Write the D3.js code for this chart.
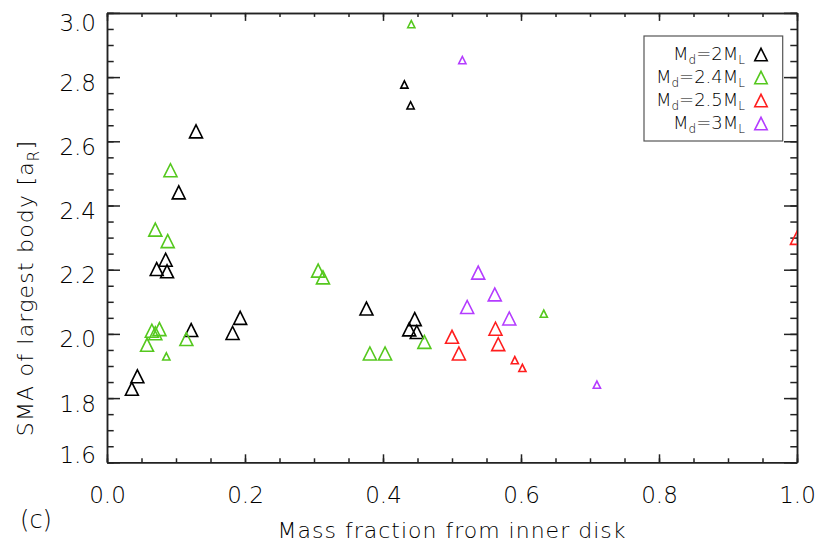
<!DOCTYPE html>
<html>
<head>
<meta charset="utf-8">
<script src="https://cdn.jsdelivr.net/npm/d3@7"></script>
<style>
  html, body { margin: 0; padding: 0; background: #fff; }
  svg { display: block; }
  text { font-family: "DejaVu Sans", "Liberation Sans", sans-serif; font-weight: 200; fill: #000; }
</style>
</head>
<body>
<svg id="chart" width="830" height="554"></svg>
<script>
// ---- data (x = mass fraction from inner disk, y = SMA of largest body [aR]) ----
const md2Big = [[0.036,1.829],[0.044,1.868],[0.072,2.202],[0.085,2.231],[0.087,2.195],[0.104,2.441],[0.122,2.012],[0.129,2.631],[0.182,2.003],[0.193,2.050],[0.376,2.079],[0.438,2.014],[0.446,2.046],[0.449,2.006]];
const md2Small = [[0.431,2.777],[0.440,2.712]];
const md24Big = [[0.058,1.966],[0.065,2.010],[0.070,2.002],[0.076,2.015],[0.070,2.325],[0.088,2.289],[0.092,2.510],[0.115,1.984],[0.306,2.197],[0.313,2.176],[0.381,1.939],[0.403,1.939],[0.460,1.975]];
const md24Small = [[0.086,1.930],[0.441,2.965],[0.633,2.063]];
const md25Big = [[0.500,1.991],[0.510,1.939],[0.563,2.016],[0.567,1.968],[1.000,2.299]];
const md25Small = [[0.591,1.918],[0.602,1.894]];
const md3Big = [[0.522,2.084],[0.538,2.191],[0.562,2.123],[0.583,2.048]];
const md3Small = [[0.515,2.853],[0.710,1.842]];

const xMajorTicks = [0, 0.2, 0.4, 0.6, 0.8, 1.0];
const yMajorTicks = [1.6, 1.8, 2.0, 2.2, 2.4, 2.6, 2.8, 3.0];
const diskMasses = ["2", "2.4", "2.5", "3"];

const seriesList = [
  { big: md2Big, small: md2Small, color: "#000000", md: diskMasses[0] },
  { big: md24Big, small: md24Small, color: "#55c81e", md: diskMasses[1] },
  { big: md25Big, small: md25Small, color: "#ff1e1e", md: diskMasses[2] },
  { big: md3Big, small: md3Small, color: "#b43cff", md: diskMasses[3] }
];

// ---- layout ----
const L = 107, R = 797, T = 12.9, B = 462.3;
const svg = d3.select("#chart");
const x = d3.scaleLinear().domain([0, 1]).range([L, R]);
const y = d3.scaleLinear().domain([1.6, 3.0]).range([B, T]);

const xMinor = d3.range(0, 1.0001, 0.05);
const yMinor = d3.range(1.6, 3.0001, 0.05);
const axisColor = "#222";

function styleAxis(g) {
  g.select(".domain").attr("stroke", axisColor).attr("stroke-width", 1.5);
  g.selectAll(".tick line").attr("stroke", axisColor).attr("stroke-width", 1.5);
}

// bottom
svg.append("g").attr("transform", `translate(0,${B})`)
  .call(d3.axisBottom(x).tickValues(xMinor).tickSize(-4).tickSizeOuter(0).tickFormat(""))
  .call(styleAxis);
svg.append("g").attr("transform", `translate(0,${B})`)
  .call(d3.axisBottom(x).tickValues(xMajorTicks).tickSize(-8).tickSizeOuter(0).tickFormat(d3.format(".1f")))
  .call(styleAxis)
  .call(g => g.selectAll(".tick text").attr("y", 41).attr("dy", null)
    .style("font-size", "23px").attr("fill", "#000"));
// top
svg.append("g").attr("transform", `translate(0,${T})`)
  .call(d3.axisTop(x).tickValues(xMinor).tickSize(-4).tickSizeOuter(0).tickFormat(""))
  .call(styleAxis);
svg.append("g").attr("transform", `translate(0,${T})`)
  .call(d3.axisTop(x).tickValues(xMajorTicks).tickSize(-8).tickSizeOuter(0).tickFormat(""))
  .call(styleAxis);
// left
svg.append("g").attr("transform", `translate(${L},0)`)
  .call(d3.axisLeft(y).tickValues(yMinor).tickSize(-6.7).tickSizeOuter(0).tickFormat(""))
  .call(styleAxis);
svg.append("g").attr("transform", `translate(${L},0)`)
  .call(d3.axisLeft(y).tickValues(yMajorTicks).tickSize(-13).tickSizeOuter(0).tickFormat(d3.format(".1f")))
  .call(styleAxis)
  .call(g => g.selectAll(".tick text")
    .attr("x", -11).attr("dy", null)
    .attr("y", d => { const ty = y(d); return Math.min(Math.max(ty + 13, 30), 462.5) - ty; })
    .style("font-size", "23px").attr("fill", "#000"));
// right
svg.append("g").attr("transform", `translate(${R},0)`)
  .call(d3.axisRight(y).tickValues(yMinor).tickSize(-6.7).tickSizeOuter(0).tickFormat(""))
  .call(styleAxis);
svg.append("g").attr("transform", `translate(${R},0)`)
  .call(d3.axisRight(y).tickValues(yMajorTicks).tickSize(-13).tickSizeOuter(0).tickFormat(""))
  .call(styleAxis);

// ---- axis titles ----
svg.append("text").attr("x", 452).attr("y", 538).attr("text-anchor", "middle")
  .style("font-size", "22px").style("letter-spacing", "1px")
  .text("Mass fraction from inner disk");
const yt = svg.append("text").attr("transform", "translate(33,288) rotate(-90)")
  .attr("text-anchor", "middle").style("font-size", "22px").style("letter-spacing", "1.2px");
yt.append("tspan").text("SMA of largest body [a");
yt.append("tspan").attr("dy", 6).style("font-size", "15px").text("R");
yt.append("tspan").attr("dy", -6).text("]");
svg.append("text").attr("x", 36).attr("y", 528).attr("text-anchor", "middle")
  .style("font-size", "24px").text("(c)");

// ---- markers ----
svg.append("defs").append("clipPath").attr("id", "plotclip")
  .append("rect").attr("x", L).attr("y", T).attr("width", R - L).attr("height", B - T);
function tri(s) { return `M${-s},${s}L0,${-s}L${s},${s}Z`; }
const plot = svg.append("g").attr("clip-path", "url(#plotclip)");
seriesList.forEach(sr => {
  plot.selectAll(null).data(sr.big).enter().append("path")
    .attr("d", tri(6.5)).attr("transform", d => `translate(${x(d[0])},${y(d[1])})`)
    .attr("fill", "none").attr("stroke", sr.color).attr("stroke-width", 1.6);
  plot.selectAll(null).data(sr.small).enter().append("path")
    .attr("d", tri(3.6)).attr("transform", d => `translate(${x(d[0])},${y(d[1])})`)
    .attr("fill", "none").attr("stroke", sr.color).attr("stroke-width", 1.6);
});

// ---- legend ----
const lg = svg.append("g");
lg.append("rect").attr("x", 644).attr("y", 36).attr("width", 138.7).attr("height", 105)
  .attr("fill", "#fff").attr("stroke", "#555").attr("stroke-width", 1.2);
seriesList.forEach((sr, i) => {
  const cy = 54.5 + i * 23;
  const t = lg.append("text").attr("x", 745).attr("y", cy + 5.5).attr("text-anchor", "end")
    .style("font-size", "18px");
  t.append("tspan").text("M");
  t.append("tspan").attr("dy", 4).style("font-size", "12px").text("d");
  t.append("tspan").attr("dy", -4).text("=" + sr.md + "M");
  t.append("tspan").attr("dy", 4).style("font-size", "12px").text("L");
  lg.append("path").attr("d", tri(6.2)).attr("transform", `translate(761,${cy})`)
    .attr("fill", "none").attr("stroke", sr.color).attr("stroke-width", 1.6);
});
</script>
</body>
</html>
